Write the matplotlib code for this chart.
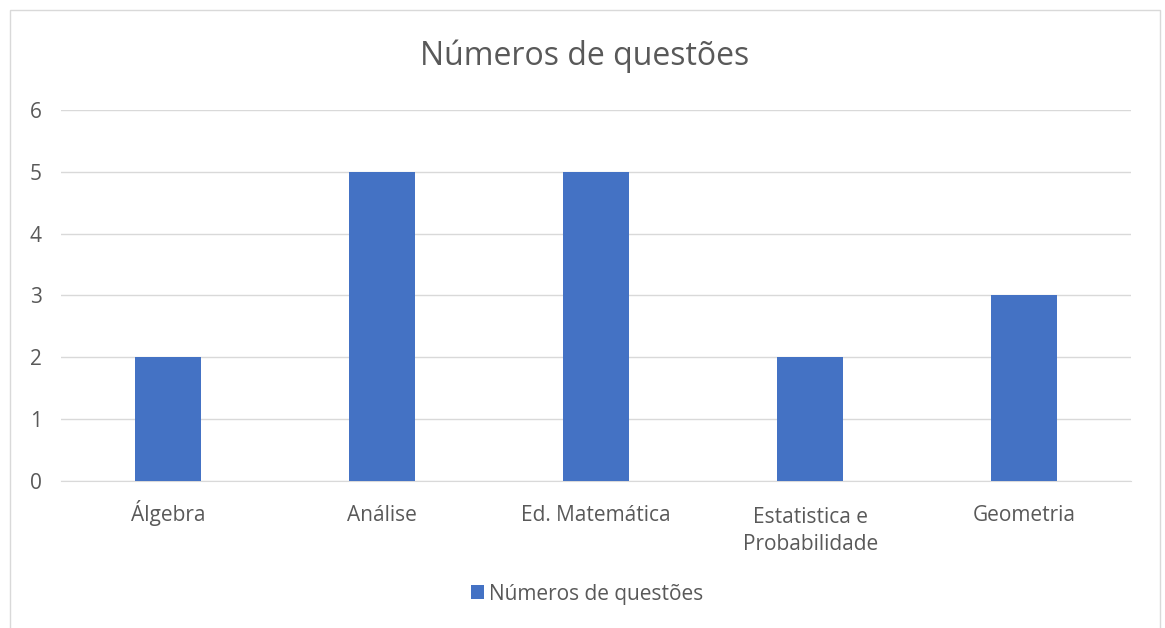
import matplotlib.pyplot as plt
from matplotlib.patches import Rectangle
from matplotlib.transforms import ScaledTranslation

categorias = ['Álgebra', 'Análise', 'Ed. Matemática', 'Estatistica e\nProbabilidade', 'Geometria']
valores = [2, 5, 5, 2, 3]
serie = 'Números de questões'

plt.rcParams['font.family'] = ['Open Sans', 'DejaVu Sans']

fig = plt.figure(figsize=(11.65, 6.28), dpi=100)
ax = fig.add_axes([0.0524, 0.234, 0.9186, 0.591])

x = range(len(categorias))
ax.bar(x, valores, width=0.31, color='#4472C4', label=serie, zorder=3)

ax.set_xlim(-0.5, len(categorias) - 0.5)
ax.set_ylim(0, 6)
ax.set_yticks(range(0, 7))
ax.set_xticks(list(x))
ax.tick_params(axis='y', labelsize=15, colors='#595959', length=0, pad=14)
ax.tick_params(axis='x', length=0, pad=29)
ax.set_xticklabels(categorias, fontsize=15, color='#595959', linespacing=1.4, va='baseline')
# baseline alinha a ultima linha; desce o rotulo de duas linhas
for lbl in ax.get_xticklabels():
    if '\n' in lbl.get_text():
        lbl.set_transform(lbl.get_transform() + ScaledTranslation(0, -0.29, fig.dpi_scale_trans))
ax.grid(axis='y', color='#D9D9D9', linewidth=1, zorder=0)
for s in ['top', 'right', 'left']:
    ax.spines[s].set_visible(False)
ax.spines['bottom'].set_color('#D9D9D9')

fig.text(0.502, 0.91, serie, ha='center', va='center', fontsize=23, color='#595959')

leg = fig.legend(loc='center', bbox_to_anchor=(0.504, 0.054), frameon=False,
                 fontsize=15, handlelength=0.65, handleheight=0.65, handletextpad=0.25)
for t in leg.get_texts():
    t.set_color('#595959')

fig.patches.append(Rectangle((10 / 1165, -0.01), 1150 / 1165, 1 - 10 / 628 + 0.01,
                             transform=fig.transFigure, fill=False,
                             edgecolor='#D9D9D9', linewidth=1))

fig.savefig('out.png', dpi=100)
